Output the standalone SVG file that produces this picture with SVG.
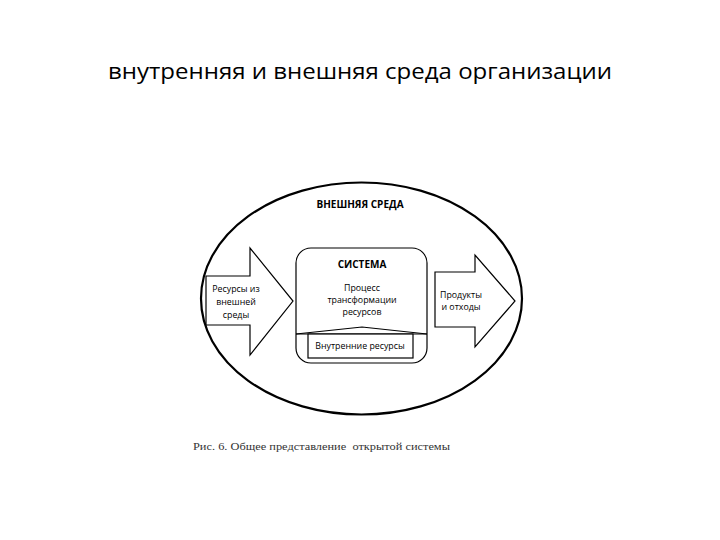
<svg xmlns="http://www.w3.org/2000/svg" width="720" height="540" viewBox="0 0 720 540">
<style>
.sh{fill:#fff;stroke:#000;stroke-width:1.2}
.lb{font-family:"Open Sans","Liberation Sans",sans-serif;font-size:8.8px;fill:#000;text-anchor:middle}
.bd{font-weight:bold;font-size:10px}
</style>
<rect width="720" height="540" fill="#fff"/>
<text x="360" y="79" font-family="'Open Sans','Noto Sans',sans-serif" font-size="22" fill="#000" text-anchor="middle" textLength="504" lengthAdjust="spacingAndGlyphs">внутренняя и внешняя среда организации</text>
<g id="env">
<ellipse cx="361.5" cy="298.5" rx="160.5" ry="116" fill="#fff" stroke="#000" stroke-width="2.2"/>
<text class="lb bd" x="360" y="208">ВНЕШНЯЯ СРЕДА</text>
</g>
<g id="input">
<polygon class="sh" points="206,276 250,276 250,248 293,301 250,355 250,325 206,325"/>
<text class="lb" x="236" y="292">Ресурсы из</text>
<text class="lb" x="236" y="305">внешней</text>
<text class="lb" x="236" y="318">среды</text>
</g>
<g id="system">
<rect class="sh" x="296" y="248" width="131" height="115" rx="15"/>
<text class="lb bd" x="362" y="268">СИСТЕМА</text>
<text class="lb" x="362" y="291">Процесс</text>
<text class="lb" x="362" y="303">трансформации</text>
<text class="lb" x="362" y="315">ресурсов</text>
</g>
<g id="internal">
<polyline fill="none" stroke="#000" stroke-width="1.2" points="296,334 362,327 427,334"/>
<line x1="296" y1="334" x2="427" y2="334" stroke="#000" stroke-width="1.2"/>
<rect class="sh" x="308" y="334" width="105" height="24"/>
<text class="lb" x="360" y="349" font-size="7.5">Внутренние ресурсы</text>
</g>
<g id="output">
<polygon class="sh" points="435,272 475,272 475,255 515,301 475,347 475,327 435,327"/>
<text class="lb" x="461" y="298">Продукты</text>
<text class="lb" x="461" y="310">и отходы</text>
</g>
<g id="connectors"></g>
<text x="193" y="450" font-family="'Liberation Serif',serif" font-size="11" fill="#333" textLength="257" lengthAdjust="spacingAndGlyphs" xml:space="preserve">Рис. 6. Общее представление  открытой системы</text>
</svg>
